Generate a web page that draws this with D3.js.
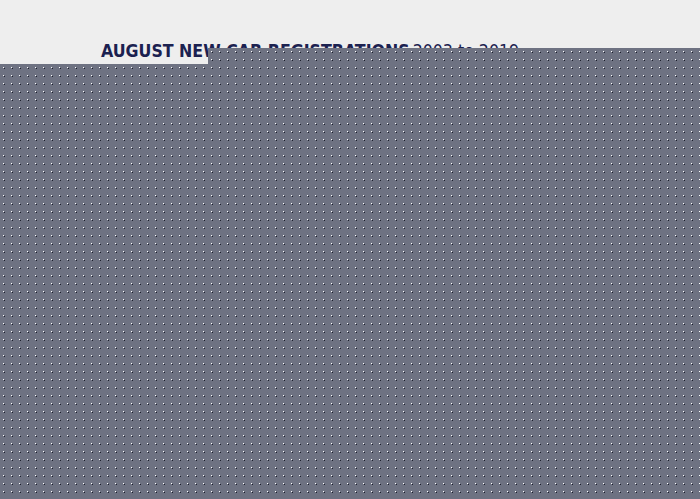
<!DOCTYPE html>
<html>
<head>
<meta charset="utf-8">
<script src="https://cdn.jsdelivr.net/npm/d3@7"></script>
<style>
  html, body { margin: 0; padding: 0; background: #eeeeee; }
  svg { display: block; }
</style>
</head>
<body>
<script>
// Only the title can be read in the reference; the plot area is fully covered,
// so no series values could be read and none are invented here.
const titleBold = "AUGUST NEW CAR REGISTRATIONS";
const titleLight = "2003 to 2019";
const years = d3.range(2003, 2020).map(String);   // from the title range
const registrations = [];                        // unreadable in the reference

const W = 700, H = 499;
const svg = d3.select("body").append("svg").attr("width", W).attr("height", H);

svg.append("rect").attr("width", W).attr("height", H).attr("fill", "#eeeeee");

const title = svg.append("text")
  .attr("x", 101).attr("y", 57)
  .attr("font-family", "'DejaVu Sans Condensed', 'DejaVu Sans', sans-serif")
  .attr("font-size", 17.6)
  .attr("fill", "#1b2150");
title.append("tspan").attr("font-weight", "bold").text(titleBold);
title.append("tspan").attr("font-weight", "normal").attr("dx", 3).text(titleLight);

// Chart area (covered in the reference): drawn as a neutral panel, with a
// band scale over the years kept ready but no marks since values are unknown.
const x = d3.scaleBand().domain(years).range([60, 680]).padding(0.2);
const y = d3.scaleLinear().domain([0, 1]).range([470, 90]);

const defs = svg.append("defs");
const pat = defs.append("pattern").attr("id", "dots")
  .attr("width", 8).attr("height", 8).attr("patternUnits", "userSpaceOnUse");
pat.append("rect").attr("width", 8).attr("height", 8).attr("fill", "#6e7282");
pat.append("rect").attr("x", 3).attr("y", 3).attr("width", 1).attr("height", 1).attr("fill", "#ffffff");
pat.append("rect").attr("x", 4).attr("y", 4).attr("width", 1).attr("height", 1).attr("fill", "#1c1f2c");

const panel = [[0, 64, 208, H - 64], [208, 48, W - 208, H - 48]];
svg.selectAll("rect.panel").data(panel).join("rect")
  .attr("class", "panel")
  .attr("x", d => d[0]).attr("y", d => d[1])
  .attr("width", d => d[2]).attr("height", d => d[3])
  .attr("fill", "url(#dots)");

svg.selectAll("rect.bar").data(registrations).join("rect")
  .attr("class", "bar")
  .attr("x", (d, i) => x(years[i])).attr("width", x.bandwidth())
  .attr("y", d => y(d)).attr("height", d => y(0) - y(d));
</script>
</body>
</html>
